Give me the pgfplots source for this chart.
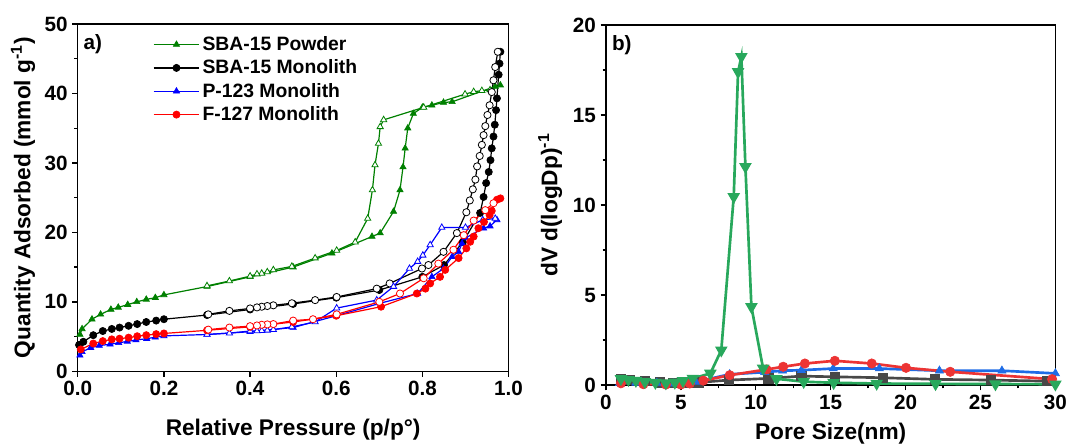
\documentclass[border=0pt]{standalone}
\usepackage{fontspec}
\setmainfont{Liberation Sans}
\usepackage{pgfplots}
\pgfplotsset{compat=1.18}

\definecolor{lgreen}{RGB}{0,128,0}
\definecolor{lblue}{RGB}{0,0,255}
\definecolor{lred}{RGB}{255,0,0}
\definecolor{rgreen}{RGB}{40,168,92}
\definecolor{rred}{RGB}{236,52,52}
\definecolor{rblue}{RGB}{30,108,230}
\definecolor{rgray}{RGB}{72,72,72}

\pgfplotsset{
  panel/.style={
    scale only axis,
    axis line style={line width=1.1pt},
    tick style={line width=1pt, black},
    tick align=outside,
    xtick pos=bottom, ytick pos=left,
    major tick length=4pt, minor tick length=2.5pt,
    /pgf/number format/assume math mode=true,
    tick label style={font=\fontsize{15.5}{17}\selectfont\bfseries},
    label style={font=\fontsize{17}{19}\selectfont\bfseries},
  },
  ads/.style={line width=0.9pt, mark size=2.7pt, mark options={solid, line width=0.5pt}},
  des/.style={line width=0.9pt, mark size=2.7pt, mark phase=2, mark repeat=1,
    mark options={solid, fill=white, line width=0.6pt}, forget plot},
  psd/.style={line width=2pt, mark size=3.5pt, mark options={solid, line width=0.5pt}},
}

\begin{document}
\begin{tikzpicture}
\path[use as bounding box] (0,0) rectangle (800pt,333.75pt);

% a) isotherms
\begin{axis}[panel,
  at={(58.3pt,55.35pt)}, anchor=south west,
  width=323pt, height=260.4pt,
  xmin=0, xmax=1, ymin=0, ymax=50,
  xtick={0,0.2,0.4,0.6,0.8,1}, ytick={0,10,20,30,40,50},
  minor y tick num=1,
  xticklabel style={/pgf/number format/.cd, fixed, fixed zerofill, precision=1},
  xlabel={Relative Pressure (p/p°)},
  ylabel={Quantity Adsorbed (mmol g\textsuperscript{-1})},
  xlabel style={at={(axis description cs:0.5,-0.169)}, anchor=center},
  ylabel style={at={(axis description cs:-0.127,0.5)}, anchor=center},
  legend style={at={(axis description cs:0.165,0.98)}, anchor=north west,
    draw=none, fill=none, font=\fontsize{14.5}{16}\selectfont\bfseries,
    row sep=1.5pt},
  legend cell align=left,
  legend image code/.code={\draw[mark repeat=2,mark phase=2,#1]
    plot coordinates {(0cm,0cm) (0.6cm,0cm) (1.2cm,0cm)};},
]
% SBA-15 powder
\addplot[ads, color=lgreen, mark=triangle*] coordinates {
 (0.005,5.3)(0.01,6.1)(0.033,7.5)(0.053,8.2)(0.077,8.9)(0.094,9.2)(0.116,9.6)
 (0.137,10.0)(0.159,10.35)(0.18,10.6)(0.2,11.0)(0.3,12.2)(0.4,13.6)(0.5,15.0)
 (0.59,17.0)(0.683,19.4)(0.702,19.9)(0.733,23.0)(0.748,26.1)(0.755,29.4)
 (0.76,32.1)(0.766,35.0)(0.779,37.1)(0.80,38.0)(0.822,38.3)(0.849,38.7)
 (0.869,38.8)(0.969,41.0)(0.981,41.2)};
\addlegendentry{SBA-15 Powder}
\addplot[des, color=lgreen, mark=triangle*] coordinates {
 (0.981,41.2)(0.957,40.5)(0.938,40.4)(0.919,40.25)(0.899,39.9)(0.803,38.0)
 (0.71,36.2)(0.702,35.2)(0.698,32.8)(0.69,29.7)(0.684,26.1)(0.673,22.0)
 (0.644,18.6)(0.601,17.4)(0.551,16.3)(0.497,15.1)(0.454,14.6)(0.44,14.3)
 (0.427,14.1)(0.416,14.0)(0.40,13.7)(0.352,13.0)(0.3,12.3)};
% SBA-15 monolith
\addplot[ads, color=black, mark=*] coordinates {
 (0.003,3.8)(0.013,4.25)(0.036,5.2)(0.058,5.8)(0.079,6.1)(0.097,6.3)(0.118,6.55)
 (0.138,6.8)(0.159,7.1)(0.182,7.3)(0.2,7.5)(0.3,8.1)(0.4,8.9)(0.5,9.7)(0.6,10.6)
 (0.7,11.7)(0.8,13.6)(0.85,15.3)(0.894,18.6)(0.934,22.8)(0.942,25.1)(0.948,27.1)
 (0.954,28.7)(0.958,30.4)(0.961,32.1)(0.965,33.8)(0.968,35.5)(0.971,37.6)
 (0.973,39.3)(0.977,42.7)(0.979,44.3)(0.981,46.0)};
\addlegendentry{SBA-15 Monolith}
\addplot[des, color=black, mark=*] coordinates {
 (0.981,46.0)(0.975,46.0)(0.969,43.8)(0.965,41.9)(0.961,40.2)(0.956,38.3)
 (0.951,36.9)(0.946,35.3)(0.942,34.0)(0.938,32.6)(0.933,31.0)(0.927,29.5)
 (0.923,27.6)(0.917,26.2)(0.91,24.6)(0.902,22.9)(0.88,19.9)(0.849,17.2)
 (0.814,15.3)(0.799,14.8)(0.724,12.65)(0.694,11.9)(0.601,10.7)(0.551,10.25)
 (0.497,9.8)(0.454,9.5)(0.44,9.4)(0.427,9.3)(0.416,9.2)(0.40,9.05)(0.352,8.7)
 (0.303,8.2)};
% P-123 monolith
\addplot[ads, color=lblue, mark=triangle*] coordinates {
 (0.005,2.3)(0.01,2.8)(0.03,3.4)(0.05,3.7)(0.075,3.9)(0.095,4.1)(0.115,4.3)
 (0.135,4.5)(0.16,4.7)(0.18,4.9)(0.2,5.1)(0.3,5.3)(0.4,5.7)(0.5,6.3)(0.6,8.0)
 (0.702,9.8)(0.789,11.2)(0.822,13.6)(0.849,14.8)(0.869,16.5)(0.884,17.2)
 (0.892,18.4)(0.9,19.2)(0.942,20.6)(0.957,20.9)(0.973,21.8)};
\addlegendentry{P-123 Monolith}
\addplot[des, color=lblue, mark=triangle*] coordinates {
 (0.973,21.8)(0.969,22.0)(0.94,21.8)(0.9,20.7)(0.845,20.7)(0.818,18.2)
 (0.801,16.7)(0.789,15.8)(0.77,14.8)(0.733,12.2)(0.694,10.25)(0.601,9.1)
 (0.551,7.1)(0.497,6.4)(0.454,6.0)(0.44,5.9)(0.427,5.85)(0.416,5.8)(0.40,5.8)
 (0.352,5.5)(0.3,5.3)};
% F-127 monolith
\addplot[ads, color=lred, mark=*] coordinates {
 (0.007,3.15)(0.036,4.0)(0.058,4.35)(0.079,4.6)(0.097,4.7)(0.118,4.85)
 (0.138,5.05)(0.159,5.2)(0.182,5.35)(0.2,5.45)(0.3,5.9)(0.4,6.4)(0.5,7.1)
 (0.6,8.0)(0.704,9.3)(0.787,11.2)(0.807,11.9)(0.818,12.65)(0.841,13.6)
 (0.853,14.6)(0.884,16.3)(0.902,17.7)(0.911,18.65)(0.919,19.4)(0.93,20.6)
 (0.943,21.5)(0.956,22.5)(0.961,23.1)(0.973,24.7)(0.981,24.9)};
\addlegendentry{F-127 Monolith}
\addplot[des, color=lred, mark=*] coordinates {
 (0.981,24.9)(0.965,24.2)(0.946,23.2)(0.919,21.7)(0.896,19.6)(0.872,17.5)
 (0.837,15.5)(0.803,13.4)(0.748,11.2)(0.70,10.0)(0.601,8.2)(0.546,7.5)
 (0.5,7.3)(0.454,6.8)(0.44,6.75)(0.427,6.7)(0.416,6.6)(0.40,6.5)(0.352,6.3)
 (0.303,6.0)};
\node[anchor=north west, font=\fontsize{15.5}{17}\selectfont\bfseries, inner sep=1pt]
  at (rel axis cs:0.01,0.975) {a)};
\end{axis}

% b) pore size distribution
\begin{axis}[panel,
  at={(454.3pt,45pt)}, anchor=south west,
  width=337pt, height=270pt,
  xmin=0, xmax=30, ymin=0, ymax=20,
  xtick={0,5,10,15,20,25,30}, ytick={0,5,10,15,20},
  minor tick num=1,
  xlabel={Pore Size(nm)},
  ylabel={dV d(logDp)\textsuperscript{-1}},
  xlabel style={at={(axis description cs:0.5,-0.135)}, anchor=center},
  ylabel style={at={(axis description cs:-0.124,0.5)}, anchor=center},
]
\addplot[psd, color=rgray, mark=square*] coordinates {
 (1.0,0.35)(1.6,0.3)(2.6,0.22)(3.6,0.15)(4.5,0.12)(5.5,0.12)(6.2,0.15)
 (8.2,0.28)(10.83,0.37)(13.05,0.5)(15.28,0.46)(18.47,0.41)(21.97,0.32)
 (25.7,0.28)(29.44,0.22)};
\addplot[psd, color=rblue, mark=triangle*] coordinates {
 (0.9,0.1)(2.0,0.12)(3.4,0.12)(4.5,0.08)(6.0,0.18)(8.26,0.6)(10.6,0.72)
 (11.79,0.8)(13.05,0.83)(15.17,0.92)(18.25,0.92)(22.26,0.8)(26.43,0.8)(30,0.65)};
\addplot[psd, color=rred, mark=*] coordinates {
 (1.0,0.1)(2.5,0.05)(4.0,0.03)(5.0,0.03)(5.6,0.09)(6.5,0.25)(8.26,0.55)
 (10.72,0.87)(11.83,1.02)(13.28,1.2)(15.28,1.35)(17.74,1.2)(20.03,0.96)
 (22.98,0.74)(29.78,0.33)};
\addplot[psd, color=rgreen, mark=triangle*, mark options={rotate=180}] coordinates {
 (1.0,0.35)(1.5,0.3)(2.0,0.25)(2.6,0.18)(3.3,0.14)(4.0,0.12)(4.6,0.15)
 (5.14,0.24)(5.8,0.37)(6.97,0.65)(7.7,1.94)(8.53,10.46)(8.82,17.4)(9.04,18.24)
 (9.31,12.13)(9.71,4.35)(10.49,0.93)(11.38,0.35)(13.2,0.19)(15.2,0.13)
 (18.07,0.09)(22,0.07)(26,0.06)(30,0.05)};
\node[anchor=north west, font=\fontsize{15.5}{17}\selectfont\bfseries, inner sep=1pt]
  at (rel axis cs:0.01,0.975) {b)};
\end{axis}
\end{tikzpicture}
\end{document}
